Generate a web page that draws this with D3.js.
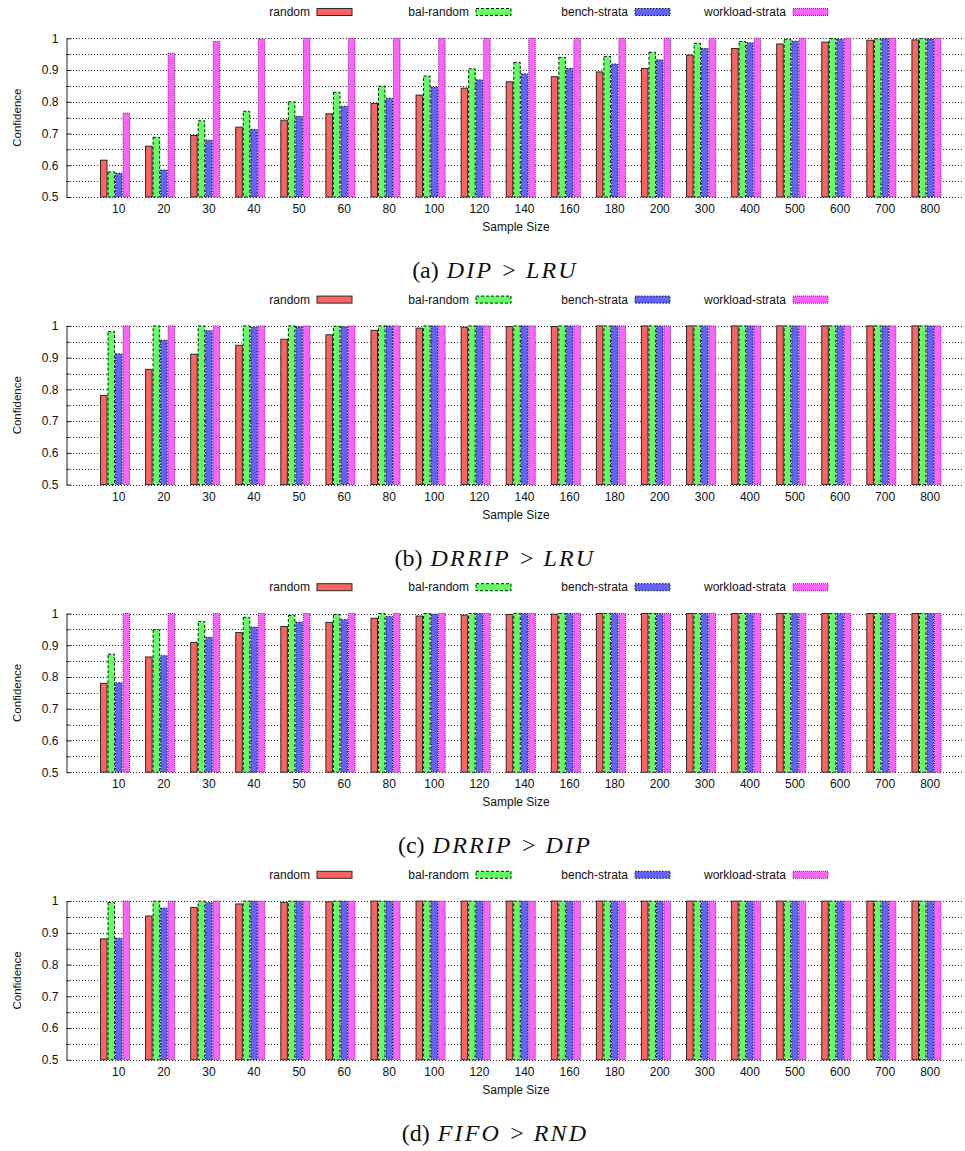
<!DOCTYPE html>
<html>
<head>
<meta charset="utf-8">
<script src="https://cdn.jsdelivr.net/npm/d3@7"></script>
<style>
  html, body { margin: 0; padding: 0; background: #fff; }
  svg { display: block; }
  text { font-family: "Liberation Sans", Arial, sans-serif; fill: #111; }
</style>
</head>
<body>
<svg id="chart" width="965" height="1151"></svg>
<script>
// ---- data ----
const sampleSizes = ["10","20","30","40","50","60","80","100","120","140","160","180","200","300","400","500","600","700","800"];
const seriesNames = ["random","bal-random","bench-strata","workload-strata"];
const yTickValues = [0.5,0.6,0.7,0.8,0.9,1];
const yTickLabels = ["0.5","0.6","0.7","0.8","0.9","1"];
const yMinorTicks = [0.55,0.65,0.75,0.85,0.95];

// (a) DIP > LRU
const dipLru_random   = [0.616,0.660,0.694,0.720,0.742,0.762,0.795,0.821,0.843,0.863,0.879,0.894,0.905,0.947,0.968,0.982,0.988,0.994,0.995];
const dipLru_bal      = [0.579,0.688,0.740,0.770,0.800,0.830,0.849,0.881,0.904,0.924,0.940,0.943,0.956,0.984,0.990,0.997,0.999,0.998,0.999];
const dipLru_bench    = [0.575,0.585,0.679,0.713,0.754,0.786,0.811,0.846,0.869,0.888,0.905,0.919,0.932,0.968,0.986,0.991,0.997,0.999,0.998];
const dipLru_workload = [0.764,0.953,0.990,0.997,1,1,1,1,1,1,1,1,1,1,1,1,1,1,1];
// (b) DRRIP > LRU
const drripLru_random   = [0.781,0.863,0.911,0.939,0.958,0.972,0.986,0.993,0.996,0.998,0.998,1,1,1,1,1,1,1,1];
const drripLru_bal      = [0.982,1,1,1,1,0.999,1,1,1,1,1,1,1,1,1,1,1,1,1];
const drripLru_bench    = [0.912,0.955,0.985,0.996,0.997,0.997,1,1,1,1,1,1,1,1,1,1,1,1,1];
const drripLru_workload = [1,1,1,1,1,1,1,1,1,1,1,1,1,1,1,1,1,1,1];
// (c) DRRIP > DIP
const drripDip_random   = [0.780,0.863,0.909,0.940,0.959,0.972,0.985,0.992,0.995,0.997,0.998,1,1,1,1,1,1,1,1];
const drripDip_bal      = [0.872,0.949,0.975,0.988,0.994,0.997,1,1,1,1,1,1,1,1,1,1,1,1,1];
const drripDip_bench    = [0.782,0.867,0.925,0.957,0.973,0.981,0.991,0.998,1,1,1,1,1,1,1,1,1,1,1];
const drripDip_workload = [1,1,1,1,1,1,1,1,1,1,1,1,1,1,1,1,1,1,1];
// (d) FIFO > RND
const fifoRnd_random   = [0.881,0.953,0.980,0.991,0.996,0.998,1,1,1,1,1,1,1,1,1,1,1,1,1];
const fifoRnd_bal      = [0.996,1,1,1,1,1,1,1,1,1,1,1,1,1,1,1,1,1,1];
const fifoRnd_bench    = [0.883,0.978,0.995,1,1,1,1,1,1,1,1,1,1,1,1,1,1,1,1];
const fifoRnd_workload = [1,1,1,1,1,1,1,1,1,1,1,1,1,1,1,1,1,1,1];

const captions = [
  {label:"(a)", left:"DIP", right:"LRU"},
  {label:"(b)", left:"DRRIP", right:"LRU"},
  {label:"(c)", left:"DRRIP", right:"DIP"},
  {label:"(d)", left:"FIFO", right:"RND"}
];
const panels = [
  [dipLru_random, dipLru_bal, dipLru_bench, dipLru_workload],
  [drripLru_random, drripLru_bal, drripLru_bench, drripLru_workload],
  [drripDip_random, drripDip_bal, drripDip_bench, drripDip_workload],
  [fifoRnd_random, fifoRnd_bal, fifoRnd_bench, fifoRnd_workload]
];

// ---- styles ----
const fills = ["#ff6262","#62ff62","#6262ff","#ff62ff"];
const strokes = ["#2a2a2a","#111","#111","#702070"];
const dashes = [null,"3,2","1.5,1.5","1,1"];

// ---- layout ----
const svg = d3.select("#chart");
const panelStep = 287.6;
const axisX = 66.5, gridRight = 963;
const top0 = 38.3, bottom0 = 197;

const x = d3.scaleBand().domain(sampleSizes).range([92.5, 949]).paddingInner(1/3).paddingOuter(1/6);
const xs = d3.scaleBand().domain(seriesNames).range([0, x.bandwidth()]);

panels.forEach((series, k) => {
  const off = k * panelStep;
  const g = svg.append("g").attr("transform", `translate(0,${off})`);
  const y = d3.scaleLinear().domain([0.5, 1]).range([bottom0, top0]);

  // grid
  const grid = g.append("g").attr("transform", `translate(${axisX},0)`)
    .call(d3.axisLeft(y).tickValues(yTickValues.concat(yMinorTicks)).tickSize(-(gridRight - axisX)).tickFormat(""));
  grid.select(".domain").remove();
  grid.selectAll("line").attr("stroke", "#333").attr("stroke-dasharray", "1,2").attr("stroke-width", 1)
    .attr("shape-rendering", "crispEdges");

  // bars
  seriesNames.forEach((name, j) => {
    g.append("g").selectAll("rect").data(series[j]).join("rect")
      .attr("x", (d, i) => x(sampleSizes[i]) + xs(name) + 0.5)
      .attr("y", d => y(d))
      .attr("width", xs.bandwidth() - 1)
      .attr("height", d => y(0.5) - y(d))
      .attr("fill", fills[j])
      .attr("stroke", strokes[j])
      .attr("stroke-width", 1)
      .attr("stroke-dasharray", dashes[j]);
  });

  // y axis
  const ya = g.append("g").attr("transform", `translate(${axisX},0)`)
    .call(d3.axisLeft(y).tickValues(yTickValues).tickFormat((d, i) => yTickLabels[i]).tickSizeInner(-5).tickSizeOuter(0).tickPadding(8));
  ya.select(".domain").attr("stroke", "#222");
  ya.selectAll("line").attr("stroke", "#222");
  ya.selectAll("text").attr("font-size", 12).attr("font-family", "Liberation Sans, Arial, sans-serif").attr("fill", "#111");
  const ym = g.append("g").attr("transform", `translate(${axisX},0)`)
    .call(d3.axisLeft(y).tickValues(yMinorTicks).tickFormat("").tickSizeInner(-3).tickSizeOuter(0));
  ym.select(".domain").remove();
  ym.selectAll("line").attr("stroke", "#222");

  // x tick labels
  g.append("g").selectAll("text").data(sampleSizes).join("text")
    .attr("x", d => x(d) + xs(seriesNames[2]) + xs.bandwidth() / 2)
    .attr("y", 213)
    .attr("text-anchor", "middle")
    .attr("font-size", 12)
    .text(d => d);

  // axis titles
  g.append("text").attr("x", 516).attr("y", 231).attr("text-anchor", "middle").attr("font-size", 12).text("Sample Size");
  g.append("text").attr("transform", `translate(21,${(top0 + bottom0) / 2}) rotate(-90)`)
    .attr("text-anchor", "middle").attr("font-size", 11.5).text("Confidence");

  // legend
  const legendRight = [352, 511, 670, 828];
  seriesNames.forEach((name, j) => {
    const sx = legendRight[j] - 35;
    g.append("text").attr("x", sx - 7).attr("y", 16.2).attr("text-anchor", "end").attr("font-size", 12).text(name);
    g.append("rect").attr("x", sx).attr("y", 8.5).attr("width", 35).attr("height", 7)
      .attr("fill", fills[j]).attr("stroke", strokes[j]).attr("stroke-width", 1).attr("stroke-dasharray", dashes[j]);
  });

  // caption
  const c = captions[k];
  const t = g.append("text").attr("x", 495).attr("y", 278.3).attr("text-anchor", "middle")
    .style("font-family", "'Liberation Serif', 'DejaVu Serif', serif").attr("font-size", 24);
  t.append("tspan").text(c.label);
  t.append("tspan").attr("dx", 8).style("font-style", "italic").attr("letter-spacing", 2.2).text(c.left);
  t.append("tspan").attr("dx", 9).text(">");
  t.append("tspan").attr("dx", 10).style("font-style", "italic").attr("letter-spacing", 2.2).text(c.right);
});
</script>
</body>
</html>
